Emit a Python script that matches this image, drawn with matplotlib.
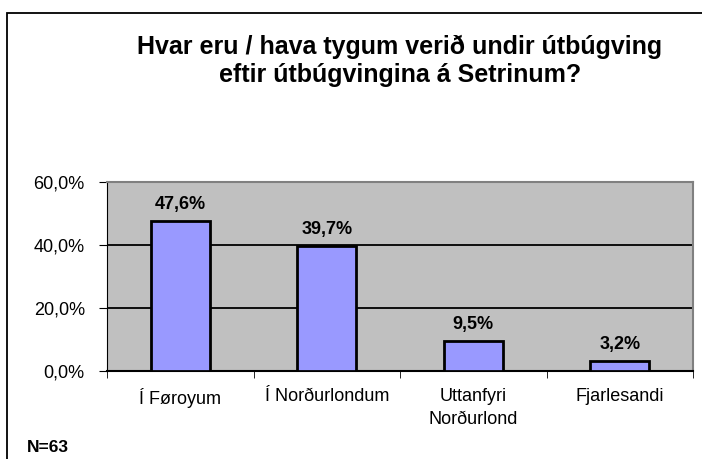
import matplotlib
matplotlib.use("Agg")
import matplotlib.pyplot as plt
from matplotlib.patches import Rectangle

categories = ["Í Føroyum", "Í Norðurlondum", "Uttanfyri\nNorðurlond", "Fjarlesandi"]
values = [47.6, 39.7, 9.5, 3.2]
yticks = [0, 20, 40, 60]
title = "Hvar eru / hava tygum verið undir útbúgving\neftir útbúgvingina á Setrinum?"
note = "N=63"

plt.rcParams['font.family'] = ['Liberation Sans', 'DejaVu Sans']

W, H = 702, 459
fig = plt.figure(figsize=(W/100, H/100), dpi=100)
fig.patch.set_facecolor("white")

# outer frame (extends past right and bottom edges)
fig.add_artist(Rectangle((7/W, -0.05), 1.0, 1 - 13/H + 0.05, transform=fig.transFigure,
                         fill=False, edgecolor="black", linewidth=1.3))

left, right, top, bottom = 107, 693, 182, 371
ax = fig.add_axes([left/W, 1-bottom/H, (right-left)/W, (bottom-top)/H])
ax.set_facecolor("#C0C0C0")

x = list(range(len(categories)))
ax.bar(x, values, width=0.4, color="#9999FF", edgecolor="black", linewidth=2, zorder=3)
for xi, v in zip(x, values):
    ax.text(xi, v + 2.5, f"{v:.1f}%".replace(".", ","), ha="center", va="bottom",
            fontsize=13, fontweight="bold", zorder=4)

ax.set_xlim(-0.5, len(categories) - 0.5)
ax.set_ylim(0, 60)
ax.set_yticks(yticks)
ax.set_yticklabels([f"{t:.1f}%".replace(".", ",") for t in yticks], fontsize=13)
ax.yaxis.grid(True, color="black", linewidth=1.3, zorder=1)
ax.set_axisbelow(True)

ax.set_xticks(x)
ax.set_xticklabels(categories, fontsize=13, va="top", linespacing=1.45)
ax.tick_params(axis="x", length=0, pad=12)
ax.set_xticks([i - 0.5 for i in range(len(categories) + 1)], minor=True)
ax.tick_params(axis="x", which="minor", length=5, direction="out", color="black")
ax.tick_params(axis="y", length=6, direction="out", pad=10)

for s in ["top", "right"]:
    ax.spines[s].set_color("#808080")
    ax.spines[s].set_linewidth(1.5)
ax.spines["left"].set_color("black")
ax.spines["bottom"].set_color("black")
ax.spines["bottom"].set_linewidth(1.5)

fig.text(400/W, 1 - 61/H, title, ha="center", va="center", fontsize=18,
         fontweight="bold", linespacing=1.2)
fig.text(27/W, 1 - 447/H, note, ha="left", va="center", fontsize=12.5, fontweight="bold")

fig.savefig("out.png", dpi=100)
